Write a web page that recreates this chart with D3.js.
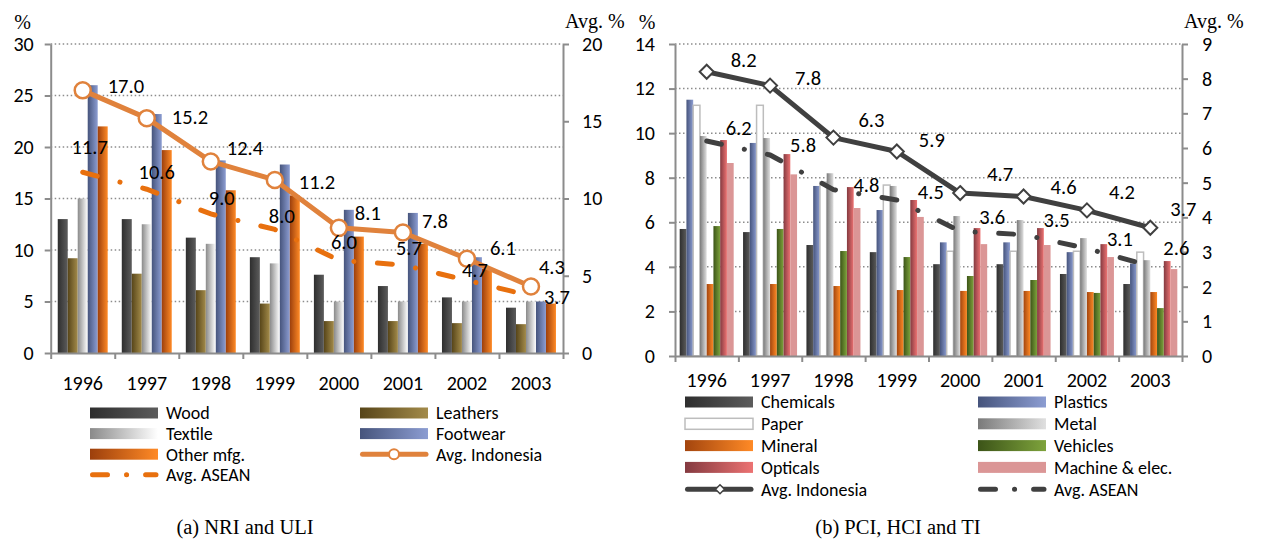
<!DOCTYPE html>
<html>
<head>
<meta charset="utf-8">
<script src="https://cdn.jsdelivr.net/npm/d3@7"></script>
<style>
  body { margin: 0; background: #fff; }
  svg { display: block; }
  .tick text, .lbl, .legend text { font-family: Carlito, Calibri, Lato, sans-serif; fill: #000; }
  .serif { font-family: "Liberation Serif", "DejaVu Serif", serif; fill: #000; }
</style>
</head>
<body>
<div id="chart"></div>
<script>
// Categories
const years = ["1996", "1997", "1998", "1999", "2000", "2001", "2002", "2003"];

// Panel (a) NRI and ULI, bars on left axis (%)
const woodValues = [13.0, 13.0, 11.2, 9.3, 7.6, 6.5, 5.4, 4.4];
const leathersValues = [9.2, 7.7, 6.1, 4.8, 3.1, 3.1, 2.9, 2.8];
const textileValues = [15.0, 12.5, 10.6, 8.7, 5.0, 5.0, 5.0, 5.0];
const footwearValues = [26.0, 23.2, 18.7, 18.3, 13.9, 13.6, 9.3, 5.0];
const otherMfgValues = [22.0, 19.7, 15.8, 15.3, 11.3, 10.6, 8.2, 4.8];
// Panel (a) lines, right axis (Avg. %)
const indonesiaA = [17.0, 15.2, 12.4, 11.2, 8.1, 7.8, 6.1, 4.3];
const aseanA = [11.7, 10.6, 9.0, 8.0, 6.0, 5.7, 4.7, 3.7];

// Panel (b) PCI, HCI and TI, bars on left axis (%)
const chemicalsValues = [5.7, 5.56, 4.98, 4.66, 4.12, 4.12, 3.68, 3.23];
const plasticsValues = [11.5, 9.56, 7.63, 6.55, 5.1, 5.1, 4.66, 4.15];
const paperValues = [11.25, 11.25, 7.8, 7.67, 4.7, 4.7, 4.7, 4.66];
const metalValues = [9.87, 9.78, 8.2, 7.63, 6.28, 6.1, 5.29, 4.3];
const mineralValues = [3.23, 3.23, 3.14, 2.96, 2.92, 2.92, 2.87, 2.87];
const vehiclesValues = [5.83, 5.7, 4.71, 4.44, 3.59, 3.41, 2.83, 2.15];
const opticalsValues = [9.69, 9.06, 7.58, 7.0, 5.74, 5.74, 5.02, 4.26];
const machineValues = [8.66, 8.15, 6.64, 6.24, 5.02, 4.98, 4.44, 3.9];
// Panel (b) lines, right axis (Avg. %)
const indonesiaB = [8.2, 7.8, 6.3, 5.9, 4.7, 4.6, 4.2, 3.7];
const aseanB = [6.2, 5.8, 4.8, 4.5, 3.6, 3.5, 3.1, 2.6];

// Axis ticks
const leftTicksA = [0, 5, 10, 15, 20, 25, 30];
const rightTicksA = [0, 5, 10, 15, 20];
const leftTicksB = [0, 2, 4, 6, 8, 10, 12, 14];
const rightTicksB = [0, 1, 2, 3, 4, 5, 6, 7, 8, 9];

// Series names
const seriesA = ["Wood", "Leathers", "Textile", "Footwear", "Other mfg."];
const seriesB = ["Chemicals", "Plastics", "Paper", "Metal", "Mineral", "Vehicles", "Opticals", "Machine & elec."];

// Bar colours (gradient from left to right)
const gradients = {
  "Wood": ["#2e2e2e", "#5c5c5c"],
  "Leathers": ["#574519", "#a38b4a"],
  "Textile": ["#8a8a8a", "#ffffff"],
  "Footwear": ["#46547c", "#8c9dd2"],
  "Other mfg.": ["#9c3f0c", "#ff8a26"],
  "Chemicals": ["#2e2e2e", "#5c5c5c"],
  "Plastics": ["#46547c", "#8c9dd2"],
  "Paper": ["#ffffff", "#ffffff"],
  "Metal": ["#7a7a7a", "#e0e0e0"],
  "Mineral": ["#a3450e", "#ff8a26"],
  "Vehicles": ["#3c5418", "#7ea33c"],
  "Opticals": ["#843a40", "#ec7272"],
  "Machine & elec.": ["#db9696", "#db9696"]
};

// Hand placed data label nudges (dx, dy in px from the point), like the original
const nudgeIndoA = [[25, -5], [25, -1], [16, -14], [24, 2], [16, -15], [19, -12], [23, -11], [8, -20]];
const nudgeAseanA = [[7, -25], [10, -17], [11, -16], [7, -14], [5, -18], [6, -17], [8, -11], [26, 1]];
const nudgeIndoB = [[24, -12], [25, -8], [25, -18], [22, -12], [27, -19], [27, -10], [22, -19], [20, -19]];
const nudgeAseanB = [[19, -13], [20, -10], [20, -5], [21, -8], [19, -14], [20, -15], [20, -10], [13, -18]];

const svg = d3
  .select("#chart")
  .append("svg")
  .attr("width", 1265)
  .attr("height", 545);

svg.append("rect").attr("width", 1265).attr("height", 545).attr("fill", "#fff");

// Gradients
const defs = svg.append("defs");
Object.keys(gradients).forEach((key, i) => {
  const g = defs.append("linearGradient")
    .attr("id", "grad" + i)
    .attr("x1", "0").attr("x2", "1").attr("y1", "0").attr("y2", "0");
  g.append("stop").attr("offset", "0%").attr("stop-color", gradients[key][0]);
  g.append("stop").attr("offset", "100%").attr("stop-color", gradients[key][1]);
});
const gradId = (key) => "url(#grad" + Object.keys(gradients).indexOf(key) + ")";

const aseanDash = "15,23.5,0.1,23.5";

function diamond(size) {
  return "M0," + (-size) + "L" + size + ",0L0," + size + "L" + (-size) + ",0Z";
}

// Draw one panel
function drawPanel(p) {
  const g = svg.append("g");

  const x = d3.scaleBand().domain(years).range([p.x0, p.x1]);
  const xEdge = d3.scaleLinear().domain([0, years.length]).range([p.x0, p.x1]);
  const pad = x.bandwidth() * p.barPad;
  const x1 = d3.scaleBand().domain(p.series.map(s => s.key)).range([pad, x.bandwidth() - pad]);
  const yL = d3.scaleLinear().domain([0, p.leftTicks[p.leftTicks.length - 1]]).range([p.yBottom, p.yTop]);
  const yR = d3.scaleLinear().domain([0, p.rightTicks[p.rightTicks.length - 1]]).range([p.yBottom, p.yTop]);

  // Grid lines
  g.append("g")
    .selectAll("line")
    .data(p.leftTicks.slice(1))
    .join("line")
    .attr("x1", p.x0).attr("x2", p.x1)
    .attr("y1", d => yL(d)).attr("y2", d => yL(d))
    .attr("stroke", "#8c8c8c")
    .attr("stroke-width", 1.5)
    .attr("stroke-dasharray", "1.5,2.5");

  // Bars
  const flat = [];
  p.series.forEach(s => s.values.forEach((v, i) => flat.push({ key: s.key, year: years[i], value: v })));
  g.append("g")
    .selectAll("rect")
    .data(flat)
    .join("rect")
    .attr("x", d => x(d.year) + x1(d.key))
    .attr("width", x1.bandwidth())
    .attr("y", d => yL(d.value))
    .attr("height", d => yL(0) - yL(d.value))
    .attr("fill", d => gradId(d.key))
    .attr("stroke", d => d.key == "Paper" ? "#bdbdbd" : "none")
    .attr("stroke-width", 1.5);

  // Axes
  const axisStyle = (sel) => {
    sel.select(".domain").attr("stroke", "#8c8c8c").attr("stroke-width", 2);
    sel.selectAll(".tick line").attr("stroke", "#8c8c8c").attr("stroke-width", 2);
    sel.selectAll(".tick text").style("font-size", "20px");
  };
  g.append("g")
    .attr("transform", "translate(" + p.x0 + ",0)")
    .call(d3.axisLeft(yL).tickValues(p.leftTicks).tickSize(6).tickSizeOuter(0).tickPadding(p.tickPadL))
    .call(axisStyle);
  g.append("g")
    .attr("transform", "translate(" + p.x1 + ",0)")
    .call(d3.axisRight(yR).tickValues(p.rightTicks).tickSize(6).tickSizeOuter(0).tickPadding(p.tickPadR))
    .call(axisStyle);
  g.append("g")
    .attr("transform", "translate(0," + p.yBottom + ")")
    .call(d3.axisBottom(xEdge).tickValues(d3.range(years.length + 1)).tickFormat("").tickSize(6).tickSizeOuter(0))
    .call(axisStyle);
  g.append("g")
    .attr("transform", "translate(0," + p.yBottom + ")")
    .call(d3.axisBottom(x).tickSize(0).tickPadding(p.tickPadX))
    .call(axisStyle)
    .select(".domain").remove();

  // Line generators
  const line = d3.line().x((d, i) => x(years[i]) + x.bandwidth() / 2).y(d => yR(d));
  const px = (i) => x(years[i]) + x.bandwidth() / 2;

  // Avg. ASEAN
  g.append("path")
    .attr("d", line(p.asean))
    .attr("fill", "none")
    .attr("stroke", p.aseanColor)
    .attr("stroke-width", 5)
    .attr("stroke-linecap", "round")
    .attr("stroke-dasharray", aseanDash);

  // Avg. Indonesia
  g.append("path")
    .attr("d", line(p.indonesia))
    .attr("fill", "none")
    .attr("stroke", p.lineColor)
    .attr("stroke-width", 5)
    .attr("stroke-linejoin", "round");

  if (p.marker == "circle") {
    g.append("g").selectAll("circle")
      .data(p.indonesia)
      .join("circle")
      .attr("cx", (d, i) => px(i))
      .attr("cy", d => yR(d))
      .attr("r", 8)
      .attr("fill", "#fff")
      .attr("stroke", p.lineColor)
      .attr("stroke-width", 2.5);
  } else {
    g.append("g").selectAll("path")
      .data(p.indonesia)
      .join("path")
      .attr("transform", (d, i) => "translate(" + px(i) + "," + yR(d) + ")")
      .attr("d", diamond(7))
      .attr("fill", "#fff")
      .attr("stroke", p.lineColor)
      .attr("stroke-width", 2);
  }

  // Data labels
  g.append("g").selectAll("text")
    .data(p.asean)
    .join("text")
    .attr("class", "lbl")
    .attr("x", (d, i) => px(i) + p.aseanNudge[i][0])
    .attr("y", (d, i) => yR(d) + p.aseanNudge[i][1])
    .attr("dy", "0.35em")
    .attr("text-anchor", p.aseanAnchor)
    .style("font-size", "20.5px")
    .text(d => d.toFixed(1));
  g.append("g").selectAll("text")
    .data(p.indonesia)
    .join("text")
    .attr("class", "lbl")
    .attr("x", (d, i) => px(i) + p.indoNudge[i][0])
    .attr("y", (d, i) => yR(d) + p.indoNudge[i][1])
    .attr("dy", "0.35em")
    .attr("text-anchor", "start")
    .style("font-size", "20.5px")
    .text(d => d.toFixed(1));

  // Unit labels
  g.append("text").attr("class", "serif").attr("x", p.x0 - 28).attr("y", 29)
    .attr("text-anchor", "middle").style("font-size", "20px").text("%");
  g.append("text").attr("class", "serif").attr("x", p.x1 + 2).attr("y", 28)
    .style("font-size", "20px").text("Avg. %");

  // Legend
  const legendItems = p.series.map(s => ({ name: s.key, type: "bar" }))
    .concat(p.legendLines);
  const legend = g.selectAll(".legend")
    .data(legendItems)
    .join("g")
    .attr("class", "legend")
    .attr("transform", (d, i) => "translate(" + p.legendX[i % 2] + "," + (p.legendY + Math.floor(i / 2) * p.legendStep) + ")");

  legend.filter(d => d.type == "bar")
    .append("rect")
    .attr("x", 0).attr("y", -5.5)
    .attr("width", 68).attr("height", 11)
    .attr("fill", d => gradId(d.name))
    .attr("stroke", d => d.name == "Paper" ? "#bdbdbd" : "none")
    .attr("stroke-width", 1.5);

  legend.filter(d => d.type == "indo")
    .append("line")
    .attr("x1", 2.5).attr("x2", 66).attr("y1", 0).attr("y2", 0)
    .attr("stroke", p.lineColor).attr("stroke-width", 5).attr("stroke-linecap", "round");
  if (p.marker == "circle") {
    legend.filter(d => d.type == "indo").append("circle")
      .attr("cx", 34).attr("cy", 0).attr("r", 5)
      .attr("fill", "#fff").attr("stroke", p.lineColor).attr("stroke-width", 2);
  } else {
    legend.filter(d => d.type == "indo").append("path")
      .attr("transform", "translate(35,0)").attr("d", diamond(4.5))
      .attr("fill", "#fff").attr("stroke", p.lineColor).attr("stroke-width", 1.5);
  }

  legend.filter(d => d.type == "asean")
    .append("line")
    .attr("x1", 2.5).attr("x2", 66).attr("y1", 0).attr("y2", 0)
    .attr("stroke", p.aseanColor).attr("stroke-width", 5).attr("stroke-linecap", "round")
    .attr("stroke-dasharray", "15,19,0.1,19");

  legend.append("text")
    .attr("x", 76)
    .attr("y", 0)
    .attr("dy", "0.35em")
    .style("font-size", "18px")
    .text(d => d.name);

  // Panel title
  svg.append("text").attr("class", "serif")
    .attr("x", p.titleX).attr("y", 534)
    .attr("text-anchor", "middle")
    .style("font-size", "20.5px")
    .text(p.title);
}

drawPanel({
  x0: 50.7, x1: 563, yTop: 44, yBottom: 353,
  barPad: 0.11,
  leftTicks: leftTicksA, rightTicks: rightTicksA,
  tickPadL: 11, tickPadR: 13, tickPadX: 23,
  series: [
    { key: "Wood", values: woodValues },
    { key: "Leathers", values: leathersValues },
    { key: "Textile", values: textileValues },
    { key: "Footwear", values: footwearValues },
    { key: "Other mfg.", values: otherMfgValues }
  ],
  indonesia: indonesiaA, asean: aseanA,
  lineColor: "#e0823c", aseanColor: "#e8700e",
  marker: "circle",
  indoNudge: nudgeIndoA, aseanNudge: nudgeAseanA, aseanAnchor: "middle",
  legendX: [90, 360], legendY: 413, legendStep: 20.6,
  legendLines: [{ name: "Avg. Indonesia", type: "indo" }, { name: "Avg. ASEAN", type: "asean" }],
  title: "(a) NRI and ULI", titleX: 245
});

drawPanel({
  x0: 675, x1: 1182, yTop: 44, yBottom: 356,
  barPad: 0.074,
  leftTicks: leftTicksB, rightTicks: rightTicksB,
  tickPadL: 14, tickPadR: 14, tickPadX: 17,
  series: [
    { key: "Chemicals", values: chemicalsValues },
    { key: "Plastics", values: plasticsValues },
    { key: "Paper", values: paperValues },
    { key: "Metal", values: metalValues },
    { key: "Mineral", values: mineralValues },
    { key: "Vehicles", values: vehiclesValues },
    { key: "Opticals", values: opticalsValues },
    { key: "Machine & elec.", values: machineValues }
  ],
  indonesia: indonesiaB, asean: aseanB,
  lineColor: "#404040", aseanColor: "#404040",
  marker: "diamond",
  indoNudge: nudgeIndoB, aseanNudge: nudgeAseanB, aseanAnchor: "start",
  legendX: [685, 978], legendY: 402, legendStep: 21.8,
  legendLines: [{ name: "Avg. Indonesia", type: "indo" }, { name: "Avg. ASEAN", type: "asean" }],
  title: "(b) PCI, HCI and TI", titleX: 898
});
</script>
</body>
</html>
